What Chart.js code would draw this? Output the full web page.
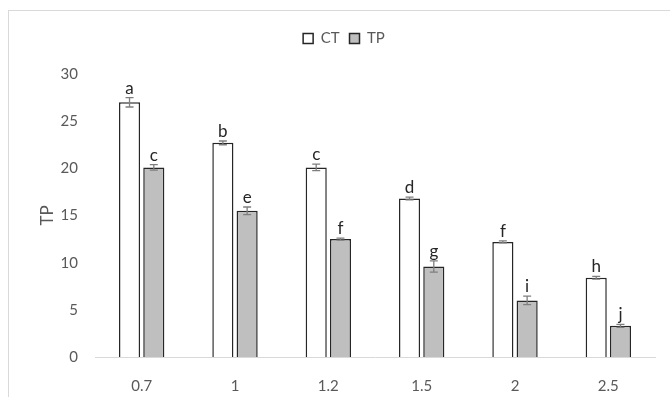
<!DOCTYPE html>
<html>
<head>
<meta charset="utf-8">
<script src="https://cdn.jsdelivr.net/npm/chart.js@4"></script>
<style>
  html, body { margin: 0; padding: 0; background: #fff; overflow: hidden; }
  #wrap { position: relative; width: 670px; height: 397px; overflow: hidden; }
  #frame { position: absolute; left: 8px; top: 10px; width: 700px; height: 420px; border: 1px solid #d9d9d9; box-sizing: border-box; }
  canvas { position: absolute; left: 0; top: 0; }
</style>
</head>
<body>
<div id="wrap">
  <div id="frame"></div>
  <canvas id="chart" width="670" height="407"></canvas>
</div>
<script>
// data
const categories = ['0.7', '1', '1.2', '1.5', '2', '2.5'];
const ctValues = [27.0, 22.7, 20.1, 16.8, 12.2, 8.4];
const tpValues = [20.1, 15.5, 12.5, 9.6, 6.0, 3.3];
const ctErrors = [0.5, 0.2, 0.35, 0.15, 0.1, 0.15];
const tpErrors = [0.3, 0.4, 0.1, 0.6, 0.45, 0.15];
const ctLetters = ['a', 'b', 'c', 'd', 'f', 'h'];
const tpLetters = ['c', 'e', 'f', 'g', 'i', 'j'];
const yTicks = [0, 5, 10, 15, 20, 25, 30];

const errors = [ctErrors, tpErrors];
const letters = [ctLetters, tpLetters];

// extra room under the legend
const legendGap = {
  id: 'legendGap',
  beforeInit(chart) {
    const fit = chart.legend.fit;
    chart.legend.fit = function () {
      fit.bind(chart.legend)();
      this.height += 18;
    };
  }
};

// error bars + significance letters
const annotatePlugin = {
  id: 'annotate',
  afterDatasetsDraw(chart) {
    const ctx = chart.ctx;
    const y = chart.scales.y;
    chart.data.datasets.forEach((ds, di) => {
      const meta = chart.getDatasetMeta(di);
      meta.data.forEach((bar, i) => {
        const v = ds.data[i];
        const e = errors[di][i];
        const top = y.getPixelForValue(v + e);
        const bot = y.getPixelForValue(v - e);
        ctx.save();
        ctx.strokeStyle = '#7f7f7f';
        ctx.lineWidth = 1.3;
        ctx.beginPath();
        ctx.moveTo(bar.x, top); ctx.lineTo(bar.x, bot);
        ctx.moveTo(bar.x - 4, top); ctx.lineTo(bar.x + 4, top);
        ctx.moveTo(bar.x - 4, bot); ctx.lineTo(bar.x + 4, bot);
        ctx.stroke();
        ctx.fillStyle = '#262626';
        ctx.font = '17px Lato';
        ctx.textAlign = 'center';
        ctx.textBaseline = 'bottom';
        ctx.fillText(letters[di][i], bar.x, Math.min(top, bar.y) - 1);
        ctx.restore();
      });
    });
  }
};

new Chart(document.getElementById('chart'), {
  type: 'bar',
  data: {
    labels: categories,
    datasets: [
      { label: 'CT', data: ctValues, backgroundColor: '#ffffff', borderColor: '#262626', borderWidth: 1.5 },
      { label: 'TP', data: tpValues, backgroundColor: '#bfbfbf', borderColor: '#262626', borderWidth: 1.5 }
    ]
  },
  options: {
    responsive: false,
    animation: false,
    layout: { padding: { left: 33, right: 15, top: 21, bottom: 0 } },
    datasets: { bar: { categoryPercentage: 0.52, barPercentage: 0.87 } },
    plugins: {
      legend: {
        labels: {
          boxWidth: 10, boxHeight: 10, color: '#595959', padding: 10,
          font: { family: 'Lato', size: 15 }
        }
      },
      tooltip: { enabled: false }
    },
    scales: {
      x: {
        grid: { display: false },
        border: { color: '#d9d9d9', width: 1 },
        ticks: { color: '#595959', padding: 12, font: { family: 'Lato', size: 15 } }
      },
      y: {
        min: 0, max: 30,
        afterBuildTicks(scale) { scale.ticks = yTicks.map(v => ({ value: v })); },
        afterFit(scale) { scale.width = 62; },
        grid: { display: false },
        border: { display: false },
        ticks: { color: '#595959', padding: 9, font: { family: 'Lato', size: 15 } },
        title: { display: true, text: 'TP', color: '#595959', font: { family: 'Lato', size: 17 } }
      }
    }
  },
  plugins: [legendGap, annotatePlugin]
});
</script>
</body>
</html>
